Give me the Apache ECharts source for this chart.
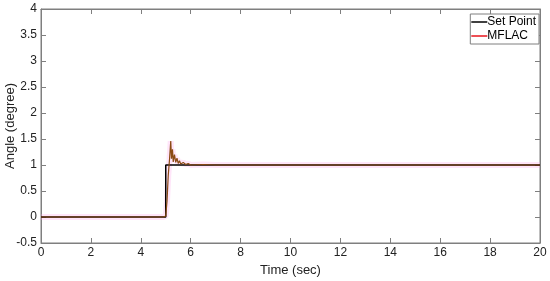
<!DOCTYPE html>
<html>
<head>
<meta charset="utf-8">
<script src="https://cdn.jsdelivr.net/npm/echarts@6/dist/echarts.min.js"></script>
<style>
  html, body { margin: 0; padding: 0; background: #fff; }
  #chart { width: 550px; height: 281px; }
</style>
</head>
<body>
<div id="chart"></div>
<script>
// data
const xTicks = [0, 2, 4, 6, 8, 10, 12, 14, 16, 18, 20];
const yTicks = [-0.5, 0, 0.5, 1, 1.5, 2, 2.5, 3, 3.5, 4];
const setPoint = [[0, 0], [5, 0], [5, 1], [20, 1]];
const mflac = [
  [0, 0], [4.9, 0], [5.0, 0.02], [5.05, 0.3], [5.1, 0.8], [5.15, 1.1], [5.2, 1.46],
  [5.23, 1.12], [5.27, 1.3], [5.3, 1.06], [5.35, 1.2], [5.4, 1.05], [5.45, 1.13],
  [5.5, 1.03], [5.55, 1.08], [5.6, 1.02], [5.7, 1.05], [5.8, 1.01], [5.9, 1.03],
  [6.0, 1.0], [6.5, 1.01], [7, 1.0], [20, 1.0]
];

const chart = echarts.init(document.getElementById('chart'));
const font = 'Liberation Sans, Arial, sans-serif';
const axisLine = { show: true, onZero: false, lineStyle: { color: '#7f7f7f', width: 1 } };
const tick = { inside: true, length: 5, lineStyle: { color: '#7f7f7f' } };
const legendIcon = 'path://M0,5 L16,5 L16,6.5 L0,6.5 Z';

chart.setOption({
  animation: false,
  grid: {
    left: 41, right: 10, top: 9, bottom: 38, containLabel: false, outerBoundsMode: 'none',
    show: true, borderColor: '#7f7f7f', borderWidth: 1
  },
  graphic: [{
    type: 'text', x: 10, y: 126, rotation: Math.PI / 2,
    style: {
      text: 'Angle (degree)', font: '13px ' + font, fill: '#222',
      textAlign: 'center', textVerticalAlign: 'middle'
    }
  }],
  legend: {
    right: 11, top: 14, orient: 'vertical',
    backgroundColor: '#fff', borderColor: '#7f7f7f', borderWidth: 1,
    padding: [2, 3, 2, 1], itemGap: 2, itemWidth: 16, itemHeight: 10,
    textStyle: { fontFamily: font, fontSize: 12, color: '#000', padding: [0, 0, 0, -5] },
    data: [
      { name: 'Set Point', icon: legendIcon, itemStyle: { color: '#000' } },
      { name: 'MFLAC', icon: legendIcon, itemStyle: { color: '#e8141c' } }
    ]
  },
  xAxis: [{
    type: 'value', min: 0, max: 20, interval: 2,
    name: 'Time (sec)', nameLocation: 'middle', nameGap: 21,
    nameTextStyle: { fontFamily: font, fontSize: 13, color: '#222' },
    axisLine, axisTick: tick,
    axisLabel: { fontFamily: font, fontSize: 12, color: '#222', margin: 4 },
    splitLine: { show: false }
  }, {
    type: 'value', min: 0, max: 20, interval: 2, position: 'top',
    axisLine, axisTick: tick,
    axisLabel: { show: false }, splitLine: { show: false }
  }],
  yAxis: [{
    type: 'value', min: -0.5, max: 4, interval: 0.5,
    axisLine, axisTick: tick,
    axisLabel: { fontFamily: font, fontSize: 12, color: '#222', margin: 4 },
    splitLine: { show: false }
  }, {
    type: 'value', min: -0.5, max: 4, interval: 0.5, position: 'right',
    axisLine, axisTick: tick,
    axisLabel: { show: false }, splitLine: { show: false }
  }],
  series: [
    {
      name: 'MFLAC-halo', type: 'line', data: mflac, showSymbol: false, silent: true,
      lineStyle: { color: 'rgba(255,150,230,0.25)', width: 6 }, z: 1
    },
    {
      name: 'Set Point', type: 'line', data: setPoint, showSymbol: false,
      lineStyle: { color: '#000', width: 1.5 }, z: 2
    },
    {
      name: 'MFLAC', type: 'line', data: mflac, showSymbol: false,
      lineStyle: { color: '#8b4a14', width: 1.2 }, z: 3
    }
  ]
});
</script>
</body>
</html>
